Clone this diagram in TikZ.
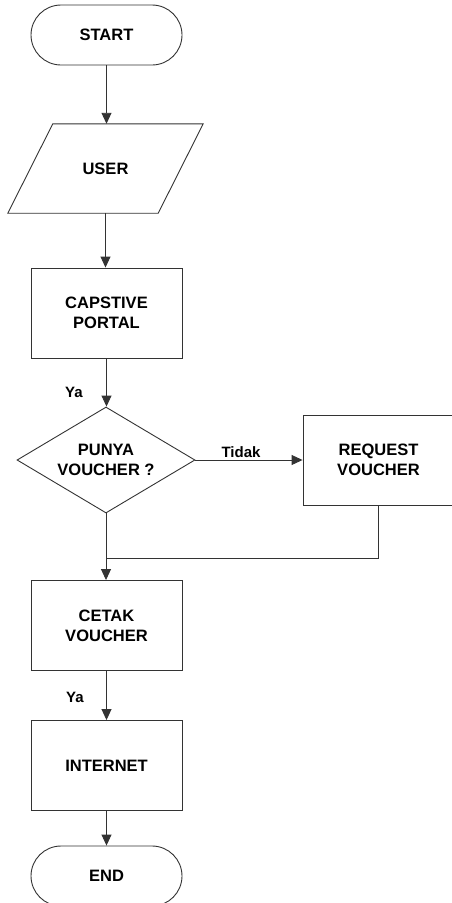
\documentclass[tikz,border=0pt]{standalone}
\usepackage{fontspec}
\setmainfont{Liberation Sans}
\usetikzlibrary{shapes.geometric,shapes.misc,arrows.meta,calc}

\tikzset{
  every node/.style={font=\fontsize{16.5}{20}\selectfont\bfseries, align=center, inner sep=0pt},
  ln/.style={draw=black!80, line width=0.9pt},
  proc/.style={ln, rectangle, minimum width=151pt, minimum height=90pt},
  term/.style={ln, rounded rectangle, minimum width=151pt, minimum height=60pt},
  decide/.style={ln, diamond, minimum width=178pt, minimum height=106pt, shape aspect=1.68},
  flow/.style={ln, -{Triangle[length=11pt,width=10pt]}},
  lbl/.style={font=\fontsize{15}{18}\selectfont\bfseries}
}

\begin{document}
\begin{tikzpicture}[x=1pt,y=-1pt]
  \useasboundingbox (0,0) rectangle (451,903);

  % terminals and process boxes
  \node[term] (start) at (106.5,35) {START};
  \node[minimum width=195pt, minimum height=89pt] (user) at (105.5,168.5) {USER};
  \draw[ln] ($(user.south west)$) -- ($(user.north west)+(45,0)$)
            -- (user.north east) -- ($(user.south east)-(45,0)$) -- cycle;
  \node[proc] (portal) at (106.5,313) {CAPSTIVE\\PORTAL};
  \node[decide] (ask) at (106,460) {PUNYA\\VOUCHER ?};
  \node[proc] (req) at (378.5,460) {REQUEST\\VOUCHER};
  \node[proc] (print) at (106.5,625.5) {CETAK\\VOUCHER};
  \node[proc] (net) at (106.5,765.5) {INTERNET};
  \node[term] (end) at (106.5,876) {END};

  % connectors
  \draw[flow] (start.south) -- (start.south |- user.north);
  \draw[flow] (user.south) -- (user.south |- portal.north);
  \draw[flow] (portal.south) -- (portal.south |- ask.north);
  \draw[flow] (ask.east) -- (req.west);
  \draw[flow] (ask.south) -- (ask.south |- print.north);
  \coordinate (join) at (ask.south |- 0,558);
  \draw[ln] (req.south) |- (join);
  \draw[flow] (print.south) -- (print.south |- net.north);
  \draw[flow] (net.south) -- (net.south |- end.north);

  % branch labels
  \node[lbl] (ya1) at (74,392) {Ya};
  \node[lbl] (tidak) at (241,452) {Tidak};
  \node[lbl] (ya2) at (75,697) {Ya};
\end{tikzpicture}
\end{document}
